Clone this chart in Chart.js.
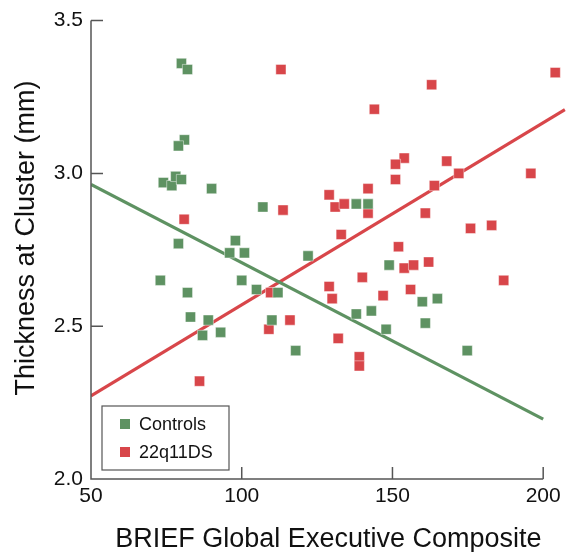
<!DOCTYPE html>
<html>
<head>
<meta charset="utf-8">
<script src="https://cdn.jsdelivr.net/npm/chart.js@4"></script>
<style>
  body { margin: 0; background: #fff; }
  #wrap { width: 574px; height: 552px; }
</style>
</head>
<body>
<div id="wrap"><canvas id="chart" width="574" height="552"></canvas></div>
<script>
// group names
const groups = ['Controls', '22q11DS'];

// Controls: BRIEF score / thickness
const controlsX = [80, 82, 81, 79, 74, 76.8, 78.1, 80, 90, 107, 79, 97.9, 96, 100.9, 73, 100, 82, 104.9, 112,
  83, 88.9, 87, 93, 110, 138, 141.9, 122, 148.9, 159.9, 164.9, 138, 143, 160.9, 147.9, 117.9, 174.8];
const controlsY = [3.36, 3.34, 3.11, 3.09, 2.97, 2.96, 2.99, 2.98, 2.95, 2.89, 2.77, 2.78, 2.74, 2.74, 2.65, 2.65, 2.61, 2.62, 2.61,
  2.53, 2.52, 2.47, 2.48, 2.52, 2.90, 2.90, 2.73, 2.70, 2.58, 2.59, 2.54, 2.55, 2.51, 2.49, 2.42, 2.42];

// 22q11DS
const deletionX = [80.9, 113, 113.7, 109.6, 109, 116, 86, 204, 163, 144, 153.9, 151, 168, 151, 172, 195.9, 163.9, 141.9, 129, 131,
  134, 141.9, 160.9, 133, 175.9, 182.9, 152, 153.9, 157, 162, 140, 186.9, 129, 130, 146.9, 156, 132, 139, 139];
const deletionY = [2.85, 3.34, 2.88, 2.61, 2.49, 2.52, 2.32, 3.33, 3.29, 3.21, 3.05, 3.03, 3.04, 2.98, 3.00, 3.00, 2.96, 2.95, 2.93, 2.89,
  2.90, 2.87, 2.87, 2.80, 2.82, 2.83, 2.76, 2.69, 2.70, 2.71, 2.66, 2.65, 2.63, 2.59, 2.60, 2.62, 2.46, 2.40, 2.37];

// fit lines (end points)
const controlsFitX = [50, 200];
const controlsFitY = [2.964, 2.196];
const deletionFitX = [50, 207.2];
const deletionFitY = [2.272, 3.209];

// tick labels
const xTicks = [50, 100, 150, 200];
const yTicks = [2.0, 2.5, 3.0, 3.5];

const yTitle = 'Thickness at Cluster (mm)';

const green = '#5e9262';
const red = '#d8464a';
const axisColor = '#555';
const fontFamily = '"Liberation Sans", Arial, sans-serif';

function toPoints(xs, ys) {
  return xs.map((x, i) => ({ x: x, y: ys[i] }));
}

// axes with inward ticks, x axis line stops at 200
const axesPlugin = {
  id: 'axes',
  afterDatasetsDraw(chart) {
    const ctx = chart.ctx;
    const xs = chart.scales.x, ys = chart.scales.y;
    const x0 = xs.getPixelForValue(50);
    const y0 = ys.getPixelForValue(2.0);
    ctx.save();
    ctx.strokeStyle = axisColor;
    ctx.lineWidth = 1.5;
    ctx.beginPath();
    ctx.moveTo(x0, ys.getPixelForValue(3.5));
    ctx.lineTo(x0, y0);
    ctx.lineTo(xs.getPixelForValue(200), y0);
    yTicks.forEach(v => {
      const py = ys.getPixelForValue(v);
      ctx.moveTo(x0, py);
      ctx.lineTo(x0 + 12, py);
    });
    xTicks.forEach(v => {
      const px = xs.getPixelForValue(v);
      ctx.moveTo(px, y0);
      ctx.lineTo(px, y0 - 12);
    });
    ctx.stroke();

    // y axis title, sits a little above the middle of the axis
    ctx.fillStyle = '#111';
    ctx.font = '27px ' + fontFamily;
    ctx.textAlign = 'center';
    ctx.textBaseline = 'middle';
    ctx.translate(27, 238);
    ctx.rotate(-Math.PI / 2);
    ctx.fillText(yTitle, 0, 0);
    ctx.restore();
  }
};

// boxed legend inside the plot
const legendPlugin = {
  id: 'boxLegend',
  afterDraw(chart) {
    const ctx = chart.ctx;
    const a = chart.chartArea;
    const left = a.left + 11, top = a.bottom - 73;
    ctx.save();
    ctx.fillStyle = '#fff';
    ctx.fillRect(left, top, 127, 64);
    ctx.strokeStyle = axisColor;
    ctx.lineWidth = 1.2;
    ctx.strokeRect(left, top, 127, 64);
    ctx.font = '18px ' + fontFamily;
    ctx.textBaseline = 'middle';
    [green, red].forEach((c, i) => {
      const cy = top + 18 + i * 28;
      ctx.fillStyle = c;
      ctx.fillRect(left + 18, cy - 5, 10, 10);
      ctx.fillStyle = '#111';
      ctx.fillText(groups[i], left + 37, cy + 1);
    });
    ctx.restore();
  }
};

const ctx = document.getElementById('chart').getContext('2d');
new Chart(ctx, {
  type: 'scatter',
  data: {
    datasets: [
      {
        label: groups[0],
        data: toPoints(controlsX, controlsY),
        pointStyle: 'rect',
        pointRadius: 7.2,
        backgroundColor: green,
        borderColor: 'rgba(255,255,255,0.45)',
        borderWidth: 1,
        order: 0
      },
      {
        label: groups[1],
        data: toPoints(deletionX, deletionY),
        pointStyle: 'rect',
        pointRadius: 7.2,
        backgroundColor: red,
        borderColor: 'rgba(255,255,255,0.45)',
        borderWidth: 1,
        order: 0
      },
      {
        type: 'line',
        label: 'fit controls',
        data: toPoints(controlsFitX, controlsFitY),
        borderColor: green,
        borderWidth: 3.2,
        pointRadius: 0,
        order: 1
      },
      {
        type: 'line',
        label: 'fit 22q11DS',
        data: toPoints(deletionFitX, deletionFitY),
        borderColor: red,
        borderWidth: 3.2,
        pointRadius: 0,
        order: 1
      }
    ]
  },
  options: {
    responsive: false,
    animation: false,
    layout: { padding: { top: 20, right: 2, left: 0, bottom: 0 } },
    plugins: {
      legend: { display: false },
      tooltip: { enabled: false }
    },
    scales: {
      x: {
        type: 'linear',
        min: 50,
        max: 207.5,
        afterFit(scale) { scale.height = 73; },
        afterBuildTicks(scale) { scale.ticks = xTicks.map(v => ({ value: v })); },
        grid: { display: false, drawTicks: false },
        border: { display: false },
        ticks: {
          color: '#111',
          padding: 5,
          font: { family: fontFamily, size: 21 }
        },
        title: {
          display: true,
          text: 'BRIEF Global Executive Composite',
          color: '#111',
          padding: { top: 0, bottom: -4 },
          font: { family: fontFamily, size: 27 }
        }
      },
      y: {
        type: 'linear',
        min: 2.0,
        max: 3.5,
        afterFit(scale) { scale.width = 91; },
        afterBuildTicks(scale) { scale.ticks = yTicks.map(v => ({ value: v })); },
        grid: { display: false, drawTicks: false },
        border: { display: false },
        ticks: {
          color: '#111',
          padding: 8,
          callback: v => v.toFixed(1),
          font: { family: fontFamily, size: 21 }
        }
      }
    }
  },
  plugins: [axesPlugin, legendPlugin]
});
</script>
</body>
</html>
